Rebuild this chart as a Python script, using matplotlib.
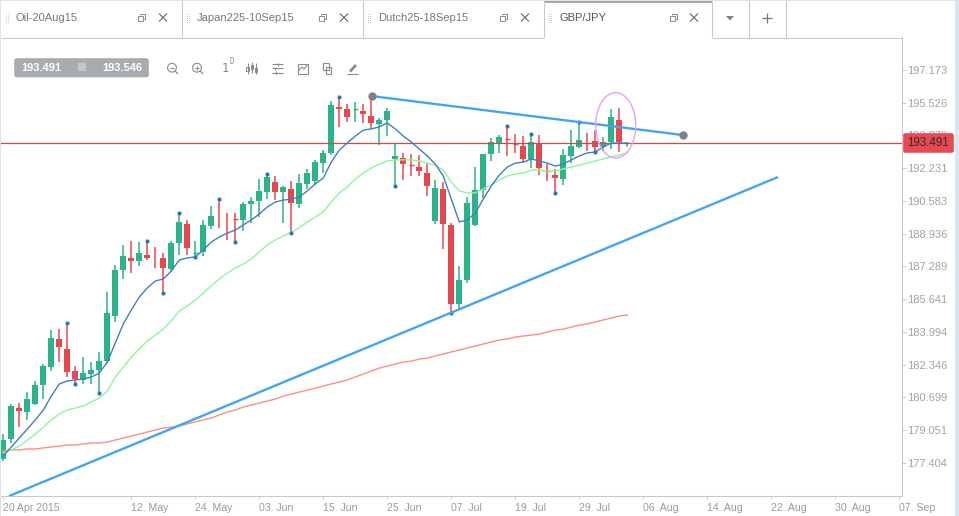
import matplotlib
matplotlib.use('Agg')
import matplotlib.pyplot as plt
from matplotlib.patches import Ellipse, FancyBboxPatch, Rectangle, Circle

plt.rcParams['font.family'] = ['Liberation Sans', 'DejaVu Sans']

# Daily GBP/JPY candles from 20 Apr 2015
opens = [177.59, 178.60, 180.17, 179.98, 180.39, 181.34, 182.25, 183.64, 183.14, 182.03,
         181.58, 181.88, 182.08, 182.53, 184.80, 187.11, 187.72, 187.57, 187.87, 187.77,
         187.72, 187.16, 188.49, 189.43, 187.98, 188.02, 189.33, 190.00, 189.50, 189.67,
         189.63, 190.43, 190.58, 191.04, 191.54, 191.04, 191.19, 190.43, 191.44, 191.59,
         192.49, 192.99, 195.31, 195.21, 195.19, 195.11, 194.86, 194.46, 194.66, 192.70,
         192.75, 192.39, 192.29, 191.99, 189.58, 191.19, 189.38, 185.40, 186.61, 189.38,
         191.14, 192.95, 193.50, 193.70, 193.45, 193.35, 192.70, 193.45, 192.09, 191.89,
         191.69, 192.85, 193.30, 193.53, 193.60, 193.30, 193.55, 194.66, 193.47]
closes = [178.56, 180.27, 180.03, 180.62, 181.33, 182.28, 183.69, 183.25, 182.00, 181.63,
          181.93, 182.08, 182.53, 184.95, 187.11, 187.82, 187.57, 187.97, 187.72, 187.77,
          187.21, 188.47, 189.53, 188.22, 188.00, 189.38, 189.83, 190.00, 189.50, 189.66,
          190.43, 190.58, 191.09, 191.79, 191.04, 191.29, 190.48, 191.49, 191.99, 192.54,
          192.99, 195.41, 195.21, 194.81, 195.21, 194.96, 194.51, 194.66, 195.11, 192.85,
          192.44, 192.38, 192.09, 191.34, 191.24, 189.43, 185.40, 186.61, 190.48, 191.14,
          192.95, 193.55, 193.80, 193.69, 193.44, 192.70, 193.55, 192.24, 192.08, 191.74,
          192.90, 193.35, 193.65, 193.52, 193.30, 193.55, 194.81, 193.55, 193.491]
highs = [178.86, 180.37, 180.44, 180.97, 181.53, 182.38, 184.09, 184.14, 184.43, 182.28,
         182.73, 182.48, 182.99, 186.00, 187.36, 188.37, 188.57, 188.52, 188.57, 188.27,
         187.97, 188.57, 189.96, 189.63, 188.57, 189.63, 190.33, 190.67, 189.98, 189.98,
         190.53, 190.78, 191.69, 191.93, 191.84, 191.34, 191.59, 191.94, 192.19, 192.64,
         193.15, 195.61, 195.80, 195.46, 195.56, 195.46, 195.86, 194.76, 195.26, 193.45,
         193.00, 192.95, 192.90, 192.49, 191.64, 191.54, 189.48, 187.31, 190.78, 192.29,
         192.95, 193.75, 193.90, 194.34, 193.95, 193.85, 193.94, 193.90, 192.44, 192.19,
         193.20, 194.15, 194.54, 194.00, 194.15, 193.80, 195.21, 195.26, 193.55]
lows = [177.52, 178.42, 179.23, 179.57, 180.32, 180.64, 182.05, 182.48, 181.74, 181.36,
        181.38, 181.38, 180.91, 182.43, 184.50, 186.66, 186.96, 187.31, 187.62, 187.21,
        185.94, 187.01, 187.87, 187.87, 187.75, 187.82, 189.18, 189.23, 188.62, 188.50,
        189.07, 189.48, 189.78, 190.68, 190.63, 189.48, 188.96, 190.23, 191.19, 191.39,
        191.99, 192.90, 194.31, 194.56, 194.56, 194.51, 194.21, 193.40, 193.85, 191.32,
        191.64, 191.84, 191.84, 190.84, 189.43, 188.17, 184.95, 185.10, 186.46, 189.33,
        190.73, 192.60, 193.00, 192.85, 193.00, 192.49, 192.24, 191.89, 191.59, 190.97,
        191.39, 192.49, 193.25, 193.10, 193.05, 193.10, 193.20, 193.05, 193.30]

# Moving averages, one value per candle
ma_fast = [177.76, 178.21, 178.66, 179.11, 179.57, 180.07, 180.77, 181.38, 181.53, 181.58,
           181.63, 181.73, 181.93, 182.48, 183.44, 184.40, 185.10, 185.75, 186.21, 186.56,
           186.66, 187.06, 187.62, 187.72, 187.77, 188.12, 188.52, 188.77, 188.97, 189.12,
           189.38, 189.63, 189.93, 190.28, 190.53, 190.63, 190.68, 190.78, 191.09, 191.44,
           191.74, 192.54, 193.15, 193.50, 193.85, 194.15, 194.21, 194.31, 194.51, 194.21,
           193.85, 193.55, 193.20, 192.85, 192.44, 191.84, 190.68, 189.53, 189.63, 189.98,
           190.68, 191.34, 191.89, 192.29, 192.49, 192.54, 192.70, 192.60, 192.49, 192.34,
           192.44, 192.65, 192.85, 193.00, 193.05, 193.30, 193.50, 193.50, 193.50]
ma_mid = [177.91, 178.06, 178.26, 178.56, 178.86, 179.21, 179.57, 179.87, 180.07, 180.17,
          180.27, 180.47, 180.67, 181.02, 181.73, 182.23, 182.73, 183.14, 183.54, 183.84,
          184.14, 184.55, 185.05, 185.30, 185.60, 185.95, 186.31, 186.66, 186.96, 187.21,
          187.41, 187.67, 188.02, 188.37, 188.62, 188.82, 189.02, 189.23, 189.53, 189.78,
          190.03, 190.53, 190.99, 191.29, 191.69, 191.99, 192.24, 192.44, 192.60, 192.65,
          192.65, 192.65, 192.60, 192.49, 192.39, 192.14, 191.54, 191.09, 190.99, 190.99,
          191.19, 191.39, 191.64, 191.84, 191.94, 191.99, 192.14, 192.14, 192.09, 192.09,
          192.19, 192.29, 192.39, 192.49, 192.60, 192.70, 192.80, 192.90, 193.00]
ma_slow = [178.01, 178.06, 178.06, 178.11, 178.11, 178.16, 178.21, 178.26, 178.31, 178.31,
           178.36, 178.41, 178.41, 178.46, 178.56, 178.66, 178.76, 178.86, 178.96, 179.06,
           179.16, 179.21, 179.26, 179.37, 179.47, 179.57, 179.67, 179.82, 179.97, 180.07,
           180.22, 180.32, 180.42, 180.52, 180.62, 180.77, 180.87, 180.97, 181.07, 181.17,
           181.28, 181.38, 181.48, 181.58, 181.73, 181.88, 182.03, 182.18, 182.28, 182.38,
           182.48, 182.53, 182.63, 182.68, 182.79, 182.89, 182.99, 183.09, 183.19, 183.29,
           183.39, 183.49, 183.59, 183.64, 183.74, 183.79, 183.84, 183.89, 183.99, 184.09,
           184.14, 184.24, 184.34, 184.40, 184.50, 184.60, 184.70, 184.80, 184.85]

# Swing points flagged with a dot
swing_high_idx = [8, 18, 22, 27, 33, 42, 63, 66, 72]
swing_low_idx = [9, 12, 20, 24, 29, 36, 49, 56, 69, 74]

# Hand drawn trend lines: (bar, price) ends
support_bars = [0.71, 96.84]
support_prices = [175.74, 191.79]
resist_bars = [46.09, 84.96]
resist_prices = [195.86, 193.90]

last_price = 193.491
bid_text = '193.491'
ask_text = '193.546'

price_ticks = [197.173, 195.526, 193.879, 192.231, 190.583, 188.936, 187.289,
               185.641, 183.994, 182.346, 180.699, 179.051, 177.404]
date_ticks = [0, 16, 24, 32, 40, 48, 56, 64, 72, 80, 88, 96, 104, 112]
date_labels = ['20 Apr 2015', '12. May', '24. May', '03. Jun', '15. Jun', '25. Jun', '07. Jul',
               '19. Jul', '29. Jul', '06. Aug', '14. Aug', '22. Aug', '30. Aug', '07. Sep']
tab_names = ['Oil-20Aug15', 'Japan225-10Sep15', 'Dutch25-18Sep15', 'GBP/JPY']

GREEN = '#2bb38a'
RED = '#e5494f'
DOT = '#2f76b8'
EDGE = '#c6c9cd'
ICON = '#8a8a8a'
TREND = '#42a5f0'

W, H = 959, 516
fig = plt.figure(figsize=(W / 100, H / 100), dpi=100, facecolor='white')

# price panel runs from x=1 to 902 and y=37 to 496
ax = fig.add_axes([1 / W, (H - 496) / H, 901 / W, 459 / H], zorder=1)
ax.set_xlim(-0.2875, 112.34)
ax.set_ylim(175.744, 198.833)
ax.set_facecolor('none')

bars = range(len(opens))
for i in bars:
    o, c, hi, lo = opens[i], closes[i], highs[i], lows[i]
    col = GREEN if c > o or (i == 24 or i == 44) else RED
    ax.vlines(i, lo, hi, color=col, lw=1.1, zorder=2)
    if abs(c - o) < 0.04:
        if c != o:
            ax.hlines((o + c) / 2, i - 0.34, i + 0.34, color=col, lw=1.0, zorder=2)
    else:
        ax.bar(i, abs(c - o), bottom=min(o, c), width=0.7, color=col, lw=0, zorder=3)

ax.axhline(last_price, color='#d2474c', lw=0.9, zorder=4)

ax.plot(bars, ma_slow, color='#fb8f86', lw=1.0, zorder=5)
ax.plot(bars, ma_mid, color='#8ff59c', lw=1.0, zorder=5)
ax.plot(bars, ma_fast, color='#3f80bf', lw=1.0, zorder=6)

ax.plot(swing_high_idx, [highs[i] for i in swing_high_idx], 'o', ms=3, color=DOT, mew=0, zorder=7)
ax.plot(swing_low_idx, [lows[i] for i in swing_low_idx], 'o', ms=3, color=DOT, mew=0, zorder=7)

ax.plot(support_bars, support_prices, color=TREND, lw=1.7, zorder=8, solid_capstyle='butt')
ax.plot(resist_bars, resist_prices, color=TREND, lw=1.7, zorder=8, solid_capstyle='butt')
ax.plot(resist_bars, resist_prices, 'o', ms=6, color='#808080', mew=0, zorder=9)

ax.add_patch(Ellipse((76.55, 194.39), 5.0, 3.285, fill=False, ec='#e3a2f6', lw=1.0, zorder=9))

ax.yaxis.tick_right()
ax.set_yticks(price_ticks)
ax.set_yticklabels([f'{p:.3f}' for p in price_ticks])
ax.set_xticks(date_ticks)
ax.set_xticklabels(date_labels, ha='left')
ax.tick_params(axis='y', length=3, width=0.7, color=EDGE, pad=1, labelsize=8, labelcolor='#a3a3a3')
ax.tick_params(axis='x', length=2.5, width=0.7, color=EDGE, pad=2.5, labelsize=7.6, labelcolor='#9a9a9a')
for side in ['top', 'left']:
    ax.spines[side].set_visible(False)
for side in ['right', 'bottom']:
    ax.spines[side].set_color(EDGE)
    ax.spines[side].set_linewidth(0.8)

# everything around the chart is laid out in screen pixels
ui = fig.add_axes([0, 0, 1, 1], zorder=2)
ui.set_xlim(0, W)
ui.set_ylim(H, 0)
ui.axis('off')


def line(xs, ys, color=ICON, lw=0.8):
    ui.plot(xs, ys, color=color, lw=lw, solid_capstyle='butt')


# window frame
ui.add_patch(Rectangle((0, 0), W, 1.2, color='#dde3ec', lw=0))
ui.add_patch(Rectangle((0, 0), 1.2, H, color='#dde3ec', lw=0))
ui.add_patch(Rectangle((955, 0), 4, H, color='#dde3ec', lw=0))

# tab strip
for x in [181.5, 362.5, 543.5, 711.5, 748.5, 785.5]:
    line([x, x], [1, 37], color=EDGE)
line([1, 543.5], [37.5, 37.5], color=EDGE)
line([711.5, 902], [37.5, 37.5], color=EDGE)
ui.add_patch(Rectangle((544, 1), 167.5, 1.8, color='#a4a8ac', lw=0))

tab_text_x = [16, 197, 378, 559]
grip_x = [7, 188, 369, 550]
restore_x = [141, 322, 503, 673]
close_x = [163, 344, 525, 694]
for k, name in enumerate(tab_names):
    ui.text(tab_text_x[k], 18, name, fontsize=8, va='center', ha='left',
            color='#555555' if k == 3 else '#777777')
    for gx in [grip_x[k] - 1, grip_x[k] + 1]:
        for gy in [14, 16, 18, 20, 22]:
            ui.add_patch(Rectangle((gx - 0.5, gy - 0.5), 1, 1, color='#c8c8c8', lw=0))
    rx = restore_x[k]
    ui.add_patch(Rectangle((rx - 3, 16), 5, 5, fill=False, ec=ICON, lw=0.7))
    line([rx - 1, rx - 1, rx + 4, rx + 4, rx + 2], [15, 14, 14, 19, 19], lw=0.7)
    cx = close_x[k]
    line([cx - 4, cx + 4], [13.5, 21.5], color='#666666', lw=0.8)
    line([cx - 4, cx + 4], [21.5, 13.5], color='#666666', lw=0.8)

ui.fill([726, 734, 730], [16, 16, 20.5], color='#808080', lw=0)
line([766.5, 766.5], [13, 23], color='#777777', lw=0.9)
line([761.5, 771.5], [18, 18], color='#777777', lw=0.9)

# bid / ask box
ui.add_patch(FancyBboxPatch((15, 59), 133, 17.5, boxstyle='round,pad=0.8,rounding_size=2.5',
                            fc='#a8acaf', ec='none'))
ui.add_patch(Rectangle((78, 63.3), 8, 8, color='#c3c6d0', lw=0))
ui.text(21, 68, bid_text, fontsize=8, color='white', va='center', ha='left', weight='bold')
ui.text(102, 68, ask_text, fontsize=8, color='white', va='center', ha='left', weight='bold')

# toolbar icons
for mx, plus in [(172, False), (197, True)]:
    ui.add_patch(Circle((mx, 67.7), 4.4, fill=False, ec=ICON, lw=0.8))
    line([mx + 3.2, mx + 6], [71, 74], lw=0.9)
    line([mx - 2.2, mx + 2.2], [67.7, 67.7])
    if plus:
        line([mx, mx], [65.5, 69.9])
ui.text(225, 69, '1', fontsize=8.5, color=ICON, va='center', ha='center', family='DejaVu Sans Mono')
ui.text(232, 62, 'D', fontsize=5.5, color=ICON, va='center', ha='center', family='DejaVu Sans Mono')

for cx, top, bot, b0, b1 in [(247.5, 63, 74, 67, 71), (251.8, 62, 73, 65, 69), (256.2, 63, 74, 68, 72)]:
    line([cx, cx], [top, bot])
    ui.add_patch(Rectangle((cx - 1.2, b0), 2.4, b1 - b0, fill=False, ec=ICON, lw=0.7))

for sy, sx in [(64, 278), (68, 275), (72.5, 276)]:
    line([271.7, 282.7], [sy, sy])
    line([sx, sx], [sy - 1.5, sy + 1.5])

ui.add_patch(Rectangle((297.5, 63.5), 10, 10, fill=False, ec=ICON, lw=0.8))
line([298, 302, 304, 307.5], [71, 67, 69, 64.5])

ui.add_patch(Rectangle((322.7, 63), 6, 7, fill=False, ec=ICON, lw=0.8))
ui.add_patch(Rectangle((325.7, 66.5), 5.5, 7, fill=False, ec=ICON, lw=0.8))

line([350, 356], [71.5, 65], lw=2.0)
line([347, 358], [74, 74], lw=0.8)

# last price tag sits over the 193.879 label
ui.add_patch(FancyBboxPatch((904, 134), 49, 18, boxstyle='round,pad=0.8,rounding_size=2',
                            fc='#e74a53', ec='none'))
ui.text(928.5, 143.5, f'{last_price:.3f}', fontsize=8.4, color='#3a2a2a', va='center', ha='center')

fig.savefig('out.png', dpi=100)
